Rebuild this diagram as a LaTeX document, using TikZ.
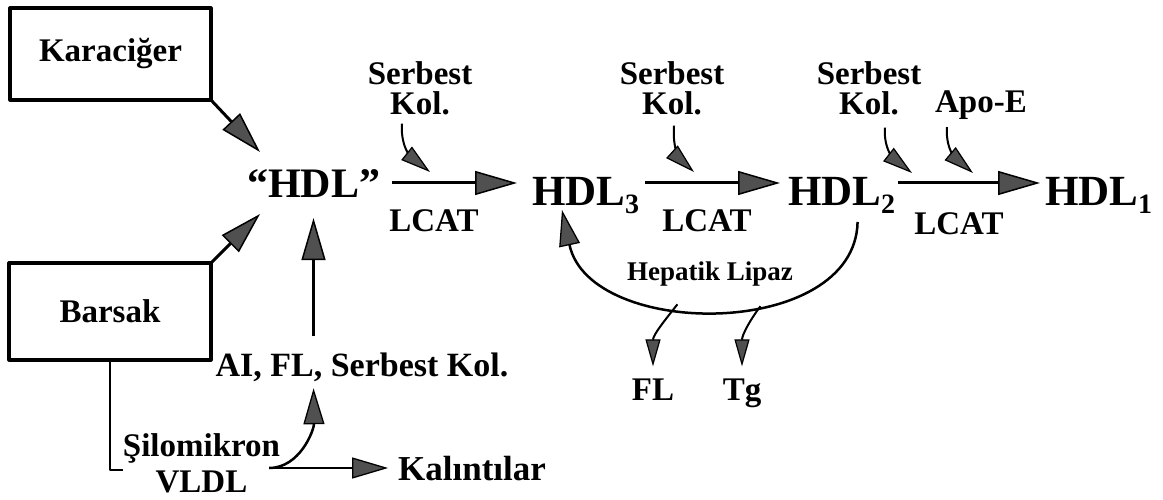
\documentclass[tikz,border=0pt]{standalone}
\usepackage{fontspec}
\setmainfont{Liberation Serif}
\usetikzlibrary{arrows.meta,calc}
\definecolor{tipgray}{HTML}{505050}
\newcommand\hsub[1]{\raisebox{-8pt}{\fontsize{28}{28}\selectfont #1}}
\begin{document}
\begin{tikzpicture}[x=1pt,y=-1pt, line join=round,
  every node/.style={inner sep=0pt, outer sep=0pt},
  boxnode/.style={draw, line width=3.2pt, font=\bfseries\fontsize{33}{36}\selectfont},
  hdl/.style={font=\bfseries\fontsize{43}{43}\selectfont},
  hdlq/.style={font=\bfseries\fontsize{42}{42}\selectfont},
  lbl/.style={font=\bfseries\fontsize{33}{30}\selectfont, align=center},
  ailbl/.style={font=\bfseries\fontsize{34}{34}\selectfont},
  hep/.style={font=\bfseries\fontsize{27}{27}\selectfont},
  twoline/.style={font=\bfseries\fontsize{33}{36}\selectfont, align=center},
  kalfont/.style={font=\bfseries\fontsize{35}{35}\selectfont},
  big/.style={line width=3pt, -{Triangle[length=42pt,width=24pt,fill=tipgray,line width=1.5pt]}},
  medarr/.style={line width=2.5pt, -{Triangle[length=36pt,width=21pt,fill=tipgray,line width=1.3pt]}},
  smallarr/.style={line width=2pt, -{Triangle[length=30pt,width=17pt,fill=tipgray,line width=1.2pt]}},
  tinyarr/.style={line width=2pt, -{Triangle[length=27pt,width=15pt,fill=tipgray,line width=1.2pt]}},
  plainline/.style={line width=2.4pt}
]
\useasboundingbox (0,0) rectangle (1163,500);
\fill[white] (0,0) rectangle (1163,500);

% boxes
\node[boxnode, minimum width=201pt, minimum height=92pt] (kar) at (110.5,54) {Karaciğer};
\node[boxnode, minimum width=202pt, minimum height=97pt] (bar) at (110,311.5) {Barsak};

% HDL species
\node[hdlq, anchor=base west] (hdl0) at (247,198) {“HDL”};
\node[hdl, anchor=base west] (hdl3) at (532,206) {HDL\hsub{3}};
\node[hdl, anchor=base west] (hdl2) at (788,206) {HDL\hsub{2}};
\node[hdl, anchor=base west] (hdl1) at (1045,206) {HDL\hsub{1}};

% labels
\node[lbl] (s1) at (420,88) {Serbest\\Kol.};
\node[lbl] (s2) at (672,88) {Serbest\\Kol.};
\node[lbl] (s3) at (869,88) {Serbest\\Kol.};
\node[lbl, anchor=base] (apo) at (981,113) {Apo-E};
\node[lbl, anchor=base] (l1) at (434,232) {LCAT};
\node[lbl, anchor=base] (l2) at (707,232) {LCAT};
\node[lbl, anchor=base] (l3) at (959,234) {LCAT};
\node[hep, anchor=base] (hl) at (710,280) {Hepatik Lipaz};
\node[lbl, anchor=base] (fl) at (653,400) {FL};
\node[lbl, anchor=base] (tg) at (742,400) {Tg};
\node[ailbl, anchor=base] (ai) at (362,376) {AI, FL, Serbest Kol.};
\node[twoline] (sil) at (201.5,463.5) {Şilomikron\\VLDL};
\node[kalfont, anchor=base] (kal) at (472,480) {Kalıntılar};

% free ends
\coordinate (t1) at (260,152);
\coordinate (t2) at (260,214);
\coordinate (k1) at (430,172);
\coordinate (k2) at (694,172);
\coordinate (k3) at (912,173);
\coordinate (k4) at (973,173);
\coordinate (hx) at (562,210);
\coordinate (fork) at ([xshift=-11pt,yshift=-4.5pt]sil.east);

% connectors into "HDL"
\draw[big] (kar.south east) -- (t1);
\draw[big] (bar.north east) -- (t2);
\draw[big, shorten <=16pt, shorten >=20pt] (hdl0.south |- ai.north) -- (hdl0.south);

% main LCAT chain
\draw[big, shorten <=12pt, shorten >=15pt] (hdl0.east |- 0,183) -- (hdl3.west |- 0,183);
\draw[big, shorten <=6pt, shorten >=8pt] (hdl3.east |- 0,183) -- (hdl2.west |- 0,183);
\draw[big, shorten <=3pt, shorten >=5pt] (hdl2.east |- 0,183) -- (hdl1.west |- 0,183);

% free cholesterol / Apo-E inputs
\draw[smallarr] ([xshift=-18pt,yshift=-9pt]s1.south) .. controls (400,150) and (415,160) .. (k1);
\draw[smallarr] ([xshift=2pt,yshift=-11pt]s2.south) .. controls (672,150) and (682,161) .. (k2);
\draw[smallarr] ([xshift=16pt,yshift=-13pt]s3.south) .. controls (883,152) and (898,162) .. (k3);
\draw[smallarr] ([xshift=-34pt,yshift=-7pt]apo.south) .. controls (945,152) and (960,162) .. (k4);

% hepatic lipase loop
\draw[medarr] ([xshift=16pt,yshift=-8pt]hdl2.south) .. controls (855,340) and (590,340) .. (hx)
  coordinate[pos=0.6] (pFL) coordinate[pos=0.4] (pTg);
\draw[tinyarr, shorten >=12pt] (pFL) .. controls (665,320) and (653,335) .. (fl.north);
\draw[tinyarr, shorten >=12pt] (pTg) .. controls (750,320) and (742,335) .. (tg.north);

% intestine branch
\draw[plainline] (bar.south) |- ([yshift=-6.5pt]sil.west);
\draw[medarr, shorten >=7pt] (fork) .. controls (300,468) and (314,430) .. (hdl0.south |- ai.south);
\draw[medarr, shorten >=10pt] (fork) -- (kal.west |- fork);
\end{tikzpicture}
\end{document}
